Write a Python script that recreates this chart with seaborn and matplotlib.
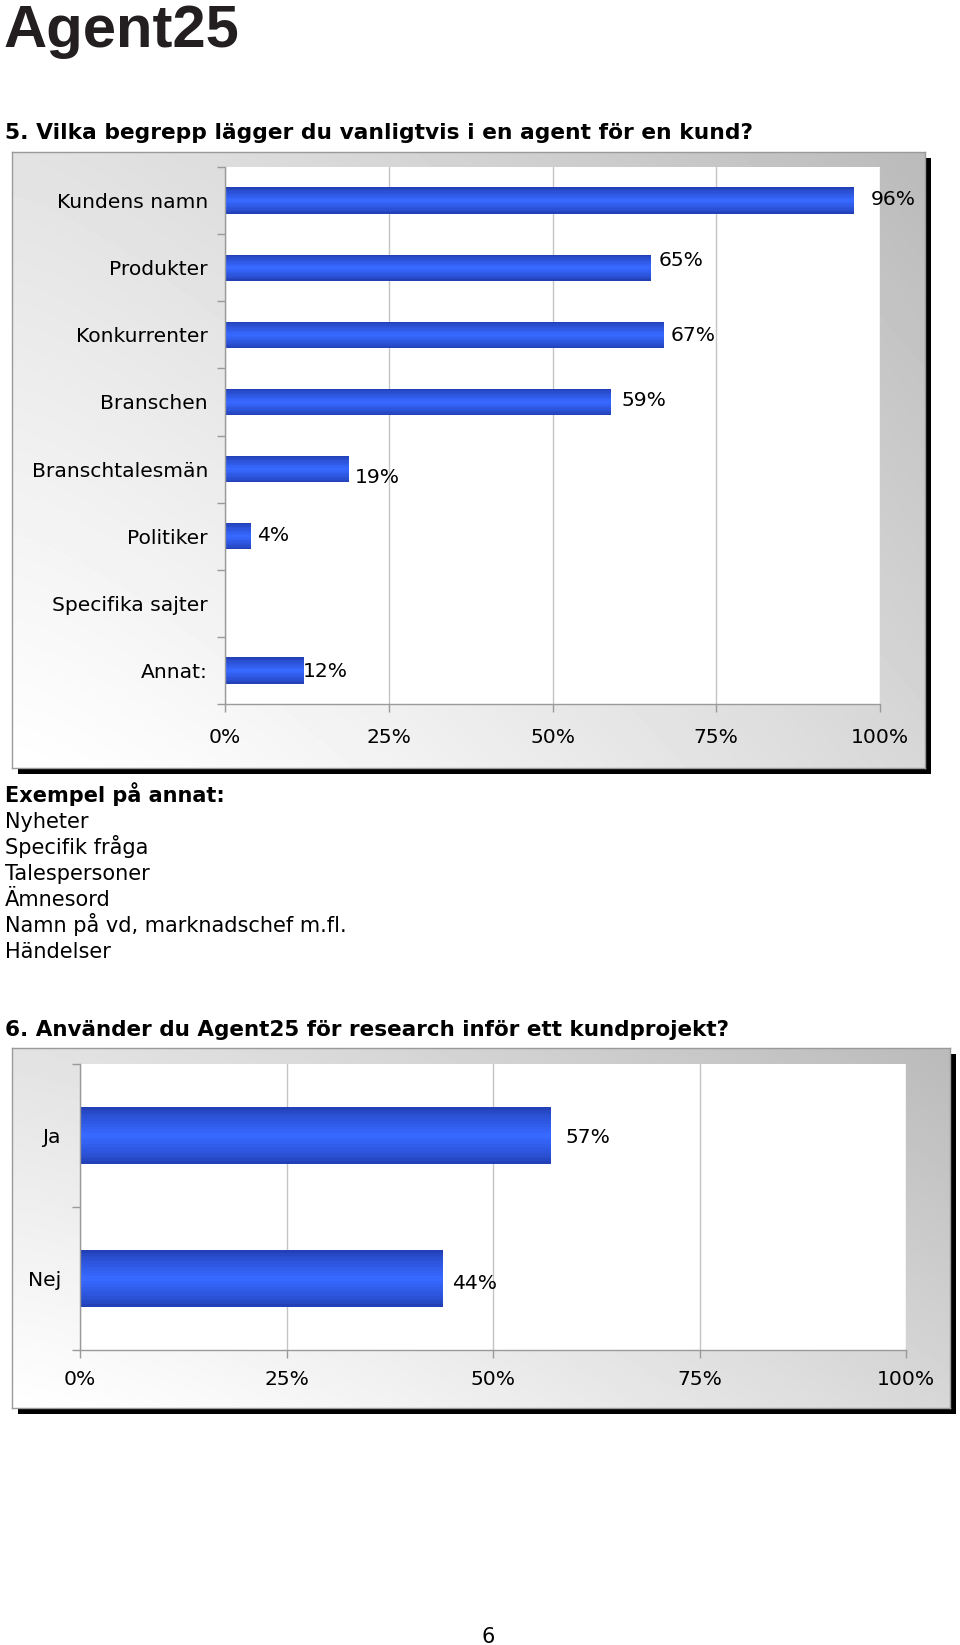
import numpy as np
import matplotlib
matplotlib.use("Agg")
import matplotlib.pyplot as plt
import seaborn as sns
import pandas as pd
from matplotlib.patches import Rectangle
from matplotlib.colors import to_rgb

# ---------------- data ----------------
logo_text = "Agent25"
title5 = "5. Vilka begrepp lägger du vanligtvis i en agent för en kund?"
q5_categories = ["Kundens namn", "Produkter", "Konkurrenter", "Branschen",
                 "Branschtalesmän", "Politiker", "Specifika sajter", "Annat:"]
q5_values = [96, 65, 67, 59, 19, 4, 0, 12]

examples_heading = "Exempel på annat:"
examples = ["Nyheter", "Specifik fråga", "Talespersoner", "Ämnesord",
            "Namn på vd, marknadschef m.fl.", "Händelser"]

title6 = "6. Använder du Agent25 för research inför ett kundprojekt?"
q6_categories = ["Ja", "Nej"]
q6_values = [57, 44]

x_ticks = [0, 25, 50, 75, 100]
x_tick_labels = ["0%", "25%", "50%", "75%", "100%"]
page_number = "6"

# ---------------- layout helpers ----------------
W, H = 960, 1645
sns.set_theme(style="white")
plt.rcParams['font.family'] = ['DejaVu Sans']
fig = plt.figure(figsize=(W / 100, H / 100), dpi=100)
fig.patch.set_facecolor('white')


def box(x0, y0, x1, y1):
    return [x0 / W, 1 - y1 / H, (x1 - x0) / W, (y1 - y0) / H]


def panel(x0, y0, x1, y1, shadow=6):
    fig.patches.append(Rectangle(((x0 + shadow) / W, 1 - (y1 + shadow) / H),
                                 (x1 - x0) / W, (y1 - y0) / H,
                                 transform=fig.transFigure, facecolor='black',
                                 edgecolor='none', zorder=-2))
    bg = fig.add_axes(box(x0, y0, x1, y1), zorder=-1)
    nx, ny = 300, 200
    u = np.linspace(0, 1, nx)[None, :]
    v = np.linspace(1, 0, ny)[:, None]
    g = 1 - 0.27 * (0.58 * u ** 1.3 + 0.42 * v)
    bg.imshow(g, cmap='gray', vmin=0, vmax=1, aspect='auto',
              extent=(0, 1, 0, 1), interpolation='bilinear')
    bg.set_xlim(0, 1)
    bg.set_ylim(0, 1)
    bg.set_xticks([])
    bg.set_yticks([])
    for s in bg.spines.values():
        s.set_color('#9a9a9a')
        s.set_linewidth(1)


edge_rgb = np.array(to_rgb('#2241b8'))
center_rgb = np.array(to_rgb('#3768ff'))
n_layers = 10


def bar_chart(rect, cats, vals, width, offsets, fs, xpad, ypad):
    ax = fig.add_axes(rect, zorder=2)
    ax.set_facecolor('white')
    df = pd.DataFrame({'cat': cats, 'val': vals})
    for k in range(n_layers):
        f = 1 - k / n_layers
        t = (k / (n_layers - 1)) ** 0.8
        c = tuple(edge_rgb * (1 - t) + center_rgb * t)
        sns.barplot(data=df, x='val', y='cat', orient='h', color=c,
                    width=width * f, ax=ax, saturation=1, linewidth=0,
                    errorbar=None, order=cats)
    n = len(cats)
    ax.set_xlim(0, 100)
    ax.set_ylim(n - 0.5, -0.5)
    ax.set_xticks(x_ticks)
    ax.set_xticklabels(x_tick_labels)
    ax.set_yticks(range(n))
    ax.set_yticklabels(cats)
    ax.set_yticks(np.arange(-0.5, n, 1), minor=True)
    ax.tick_params(axis='y', which='major', length=0, pad=ypad, labelsize=fs,
                   labelcolor='black')
    ax.tick_params(axis='y', which='minor', length=6, color='#9a9a9a',
                   width=1, left=True)
    ax.tick_params(axis='x', length=6, color='#9a9a9a', width=1, bottom=True,
                   pad=xpad, labelsize=fs, labelcolor='black')
    ax.grid(axis='x', color='#c4c4c4', lw=1)
    ax.grid(axis='y', visible=False)
    ax.set_axisbelow(True)
    ax.set_xlabel('')
    ax.set_ylabel('')
    for side in ['top', 'right']:
        ax.spines[side].set_visible(False)
    for side in ['left', 'bottom']:
        ax.spines[side].set_visible(True)
        ax.spines[side].set_color('#9a9a9a')
        ax.spines[side].set_linewidth(1)
    for i, (v, (dx, dy)) in enumerate(zip(vals, offsets)):
        if v > 0:
            ax.annotate(f"{v}%", (v, i), xytext=(dx, -dy),
                        textcoords='offset pixels', va='center', ha='left',
                        fontsize=fs, annotation_clip=False, color='black')
    return ax


# ---------------- header ----------------
fig.text(4 / W, 1 - 47 / H, logo_text, va='baseline', ha='left', fontsize=43,
         fontweight='bold', family=['Liberation Sans', 'DejaVu Sans'],
         color='#231f20')
fig.text(5 / W, 1 - 139 / H, title5, va='baseline', ha='left', fontsize=15.7,
         fontweight='bold', color='black')

# ---------------- chart 5 ----------------
panel(12, 152, 925, 768)
bar_chart(box(225, 167, 880, 704), q5_categories, q5_values, 0.39,
          [(17, -1), (8, -7), (7, 1), (10, -1), (5, 8), (6, -1), (0, 0), (-1, 1)],
          fs=14.6, xpad=11.2, ypad=12.2)

# ---------------- examples ----------------
fig.text(5 / W, 1 - 802 / H, examples_heading, va='baseline', ha='left',
         fontsize=15, fontweight='bold', color='black')
for k, line in enumerate(examples):
    fig.text(5 / W, 1 - (828 + 26 * k) / H, line, va='baseline', ha='left',
             fontsize=15, color='black')

# ---------------- chart 6 ----------------
fig.text(5 / W, 1 - 1036 / H, title6, va='baseline', ha='left', fontsize=15.5,
         fontweight='bold', color='black')
panel(12, 1048, 950, 1408)
bar_chart(box(80, 1064, 906, 1350), q6_categories, q6_values, 0.40,
          [(15, 2), (9, 5)], fs=14.6, xpad=8.4, ypad=13.7)

# ---------------- page number ----------------
fig.text(488 / W, 1 - 1643 / H, page_number, va='baseline', ha='center',
         fontsize=15, color='black')

fig.savefig("out.png", dpi=100, facecolor='white')
